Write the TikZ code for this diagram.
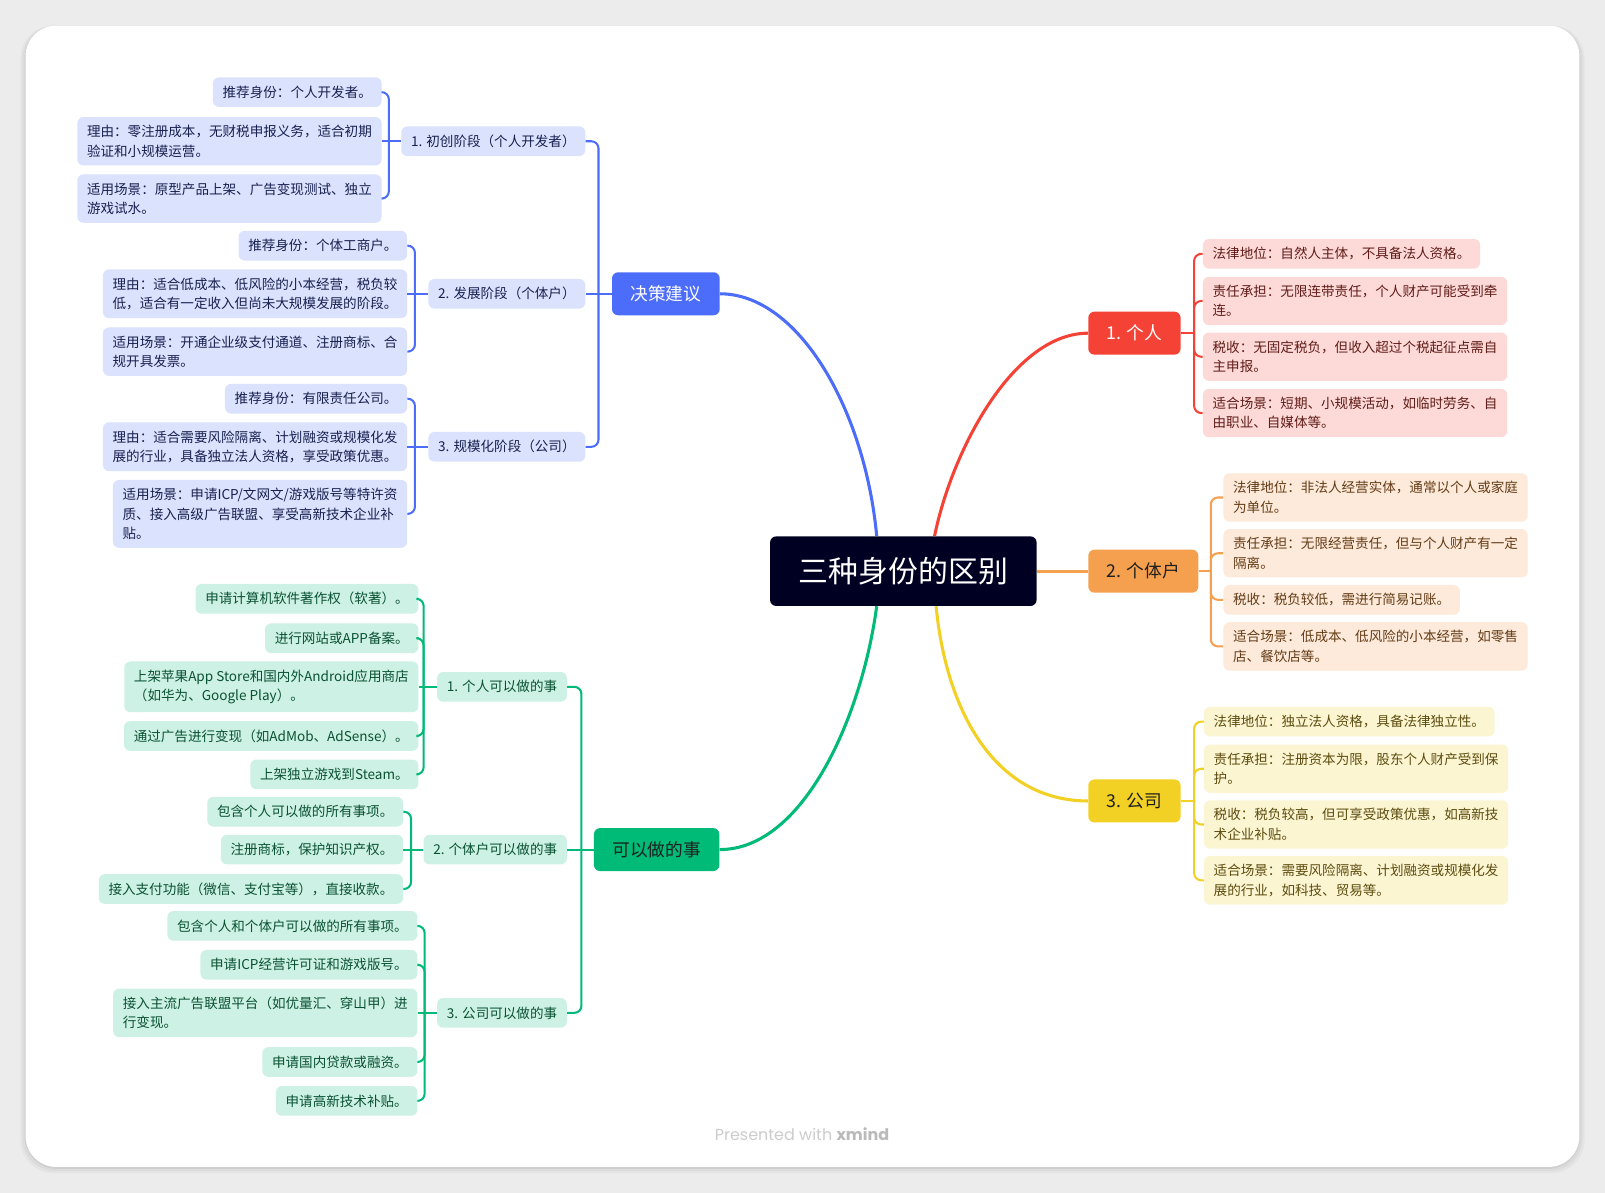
\documentclass[tikz,border=0pt]{standalone}
\usepackage{fontspec}
\setmainfont{Noto Sans CJK SC}
\newfontfamily\footfont{Poppins}
\usetikzlibrary{calc}

\definecolor{pagebg}{RGB}{236,236,236}
\definecolor{rootbg}{RGB}{0,0,34}
\definecolor{blueline}{RGB}{76,108,250}
\definecolor{bluelt}{RGB}{219,226,253}
\definecolor{bluetx}{RGB}{24,32,80}
\definecolor{redline}{RGB}{244,67,54}
\definecolor{redlt}{RGB}{253,218,216}
\definecolor{redtx}{RGB}{96,28,24}
\definecolor{orangeline}{RGB}{245,160,78}
\definecolor{orangelt}{RGB}{253,234,218}
\definecolor{orangetx}{RGB}{100,60,22}
\definecolor{yellowline}{RGB}{242,208,36}
\definecolor{yellowlt}{RGB}{252,245,210}
\definecolor{yellowtx}{RGB}{92,76,14}
\definecolor{greenline}{RGB}{0,186,120}
\definecolor{greenlt}{RGB}{205,241,228}
\definecolor{greentx}{RGB}{10,82,52}

\tikzset{
  rootbox/.style={fill=rootbg, text=white, rounded corners=6pt, inner xsep=28pt, minimum height=68pt, font=\fontsize{29.2}{34}\selectfont},
  topicbox/.style={fill=#1line, rounded corners=6pt, inner xsep=18pt, minimum height=42pt, font=\fontsize{17.3}{20}\selectfont},
  leafbox/.style={fill=#1lt, text=#1tx, rounded corners=6pt, inner xsep=9.5pt, inner ysep=8pt, minimum height=29pt, align=left, font=\fontsize{13.25}{19}\selectfont},
  twig/.style={draw=#1line, line width=2pt, rounded corners=7pt},
  bough/.style={draw=#1line, line width=3pt},
}

\begin{document}
\begin{tikzpicture}[x=1pt,y=-1pt]
\useasboundingbox (0,0) rectangle (1568,1165);
\fill[pagebg] (0,0) rectangle (1568,1165);
\foreach \d/\o in {5/0.03,3/0.04,1/0.05}
  \fill[black, opacity=\o, rounded corners=32pt] (25-\d,25) rectangle (1543+\d,1140+\d+1);
\fill[white, rounded corners=30pt] (25,25) rectangle (1543,1140);

% centre and main topics
\node[rootbox] (root) at (882.5,558) {三种身份的区别};
\node[topicbox=blue, text=white] (advice) at (650.5,287) {决策建议};
\node[topicbox=red, text=white, anchor=west] (person) at (1063,325.5) {1. 个人};
\node[topicbox=orange, text=black!88, anchor=west] (household) at (1063,558) {2. 个体户};
\node[topicbox=yellow, text=black!88, anchor=west] (company) at (1063,782.5) {3. 公司};
\node[topicbox=green, text=black!88] (cando) at (641.5,830) {可以做的事};

% decision stages
\node[leafbox=blue, anchor=east] (startup) at (572,138) {1. 初创阶段（个人开发者）};
\node[leafbox=blue, anchor=east] (growth) at (572,287) {2. 发展阶段（个体户）};
\node[leafbox=blue, anchor=east] (scale) at (572,436.5) {3. 规模化阶段（公司）};

\node[leafbox=blue, anchor=east] (startupa) at (373,90) {推荐身份：个人开发者。};
\node[leafbox=blue, anchor=east] (startupb) at (373,138) {理由：零注册成本，无财税申报义务，适合初期\\验证和小规模运营。};
\node[leafbox=blue, anchor=east] (startupc) at (373,194) {适用场景：原型产品上架、广告变现测试、独立\\游戏试水。};

\node[leafbox=blue, anchor=east] (growtha) at (398,240) {推荐身份：个体工商户。};
\node[leafbox=blue, anchor=east] (growthb) at (398,287) {理由：适合低成本、低风险的小本经营，税负较\\低，适合有一定收入但尚未大规模发展的阶段。};
\node[leafbox=blue, anchor=east] (growthc) at (398,343.5) {适用场景：开通企业级支付通道、注册商标、合\\规开具发票。};

\node[leafbox=blue, anchor=east] (scalea) at (398,389.5) {推荐身份：有限责任公司。};
\node[leafbox=blue, anchor=east] (scaleb) at (398,436.5) {理由：适合需要风险隔离、计划融资或规模化发\\展的行业，具备独立法人资格，享受政策优惠。};
\node[leafbox=blue, anchor=east] (scalec) at (398,502) {适用场景：申请ICP/文网文/游戏版号等特许资\\质、接入高级广告联盟、享受高新技术企业补\\贴。};

% individual
\node[leafbox=red, anchor=west] (persona) at (1175,248) {法律地位：自然人主体，不具备法人资格。};
\node[leafbox=red, anchor=west] (personb) at (1175,294) {责任承担：无限连带责任，个人财产可能受到牵\\连。};
\node[leafbox=red, anchor=west] (personc) at (1175,348.5) {税收：无固定税负，但收入超过个税起征点需自\\主申报。};
\node[leafbox=red, anchor=west] (persond) at (1175,403.5) {适合场景：短期、小规模活动，如临时劳务、自\\由职业、自媒体等。};

% household
\node[leafbox=orange, anchor=west] (householda) at (1195,486) {法律地位：非法人经营实体，通常以个人或家庭\\为单位。};
\node[leafbox=orange, anchor=west] (householdb) at (1195,540.5) {责任承担：无限经营责任，但与个人财产有一定\\隔离。};
\node[leafbox=orange, anchor=west] (householdc) at (1195,586) {税收：税负较低，需进行简易记账。};
\node[leafbox=orange, anchor=west] (householdd) at (1195,631.5) {适合场景：低成本、低风险的小本经营，如零售\\店、餐饮店等。};

% company
\node[leafbox=yellow, anchor=west] (companya) at (1176,705) {法律地位：独立法人资格，具备法律独立性。};
\node[leafbox=yellow, anchor=west] (companyb) at (1176,751) {责任承担：注册资本为限，股东个人财产受到保\\护。};
\node[leafbox=yellow, anchor=west] (companyc) at (1176,805.5) {税收：税负较高，但可享受政策优惠，如高新技\\术企业补贴。};
\node[leafbox=yellow, anchor=west] (companyd) at (1176,860) {适合场景：需要风险隔离、计划融资或规模化发\\展的行业，如科技、贸易等。};

% what each can do
\node[leafbox=green, anchor=east] (solo) at (554,671) {1. 个人可以做的事};
\node[leafbox=green, anchor=east] (shop) at (554,830) {2. 个体户可以做的事};
\node[leafbox=green, anchor=east] (firm) at (554,989.5) {3. 公司可以做的事};

\node[leafbox=green, anchor=east] (soloa) at (409,585) {申请计算机软件著作权（软著）。};
\node[leafbox=green, anchor=east] (solob) at (409,623.5) {进行网站或APP备案。};
\node[leafbox=green, anchor=east] (soloc) at (409,671) {上架苹果App Store和国内外Android应用商店\\（如华为、Google Play）。};
\node[leafbox=green, anchor=east] (solod) at (409,719) {通过广告进行变现（如AdMob、AdSense）。};
\node[leafbox=green, anchor=east] (soloe) at (409,756.5) {上架独立游戏到Steam。};

\node[leafbox=green, anchor=east] (shopa) at (394,793) {包含个人可以做的所有事项。};
\node[leafbox=green, anchor=east] (shopb) at (394,830) {注册商标，保护知识产权。};
\node[leafbox=green, anchor=east] (shopc) at (394,868.5) {接入支付功能（微信、支付宝等），直接收款。};

\node[leafbox=green, anchor=east] (firma) at (408,904.5) {包含个人和个体户可以做的所有事项。};
\node[leafbox=green, anchor=east] (firmb) at (408,942.5) {申请ICP经营许可证和游戏版号。};
\node[leafbox=green, anchor=east] (firmc) at (408,989.5) {接入主流广告联盟平台（如优量汇、穿山甲）进\\行变现。};
\node[leafbox=green, anchor=east] (firmd) at (408,1037.5) {申请国内贷款或融资。};
\node[leafbox=green, anchor=east] (firme) at (408,1075.5) {申请高新技术补贴。};

% main branches
\draw[bough=blue] (advice.east) .. controls (780,287) and (845,400) .. ([xshift=-26pt]root.north);
\draw[bough=red] (person.west) .. controls (990,325.5) and (930,440) .. ([xshift=30.5pt]root.north);
\draw[bough=orange] (root.east) -- (household.west);
\draw[bough=yellow] ([xshift=32pt]root.south) .. controls (925,700) and (975,782.5) .. (company.west);
\draw[bough=green] ([xshift=-26pt]root.south) .. controls (842,700) and (785,830) .. (cando.east);

% left side twigs
\coordinate (advicet) at ([xshift=-13pt]advice.west);
\foreach \s in {startup,scale} \draw[twig=blue] (\s.east) -| (advicet);
\draw[twig=blue] (growth.east) -- (advice.west);
\coordinate (startupt) at ([xshift=-12pt]startup.west);
\foreach \l in {startupa,startupc} \draw[twig=blue] (\l.east) -| (startupt);
\draw[twig=blue] (startupb.east) -- (startup.west);
\coordinate (growtht) at ([xshift=-13pt]growth.west);
\foreach \l in {growtha,growthc} \draw[twig=blue] (\l.east) -| (growtht);
\draw[twig=blue] (growthb.east) -- (growth.west);
\coordinate (scalet) at ([xshift=-13pt]scale.west);
\foreach \l in {scalea,scalec} \draw[twig=blue] (\l.east) -| (scalet);
\draw[twig=blue] (scaleb.east) -- (scale.west);

\coordinate (candot) at ([xshift=-12pt]cando.west);
\foreach \s in {solo,firm} \draw[twig=green] (\s.east) -| (candot);
\draw[twig=green] (shop.east) -- (cando.west);
\coordinate (solot) at ([xshift=-13pt]solo.west);
\foreach \l in {soloa,solob,solod,soloe} \draw[twig=green] (\l.east) -| (solot);
\draw[twig=green] (soloc.east) -- (solo.west);
\coordinate (shopt) at ([xshift=-12pt]shop.west);
\foreach \l in {shopa,shopc} \draw[twig=green] (\l.east) -| (shopt);
\draw[twig=green] (shopb.east) -- (shop.west);
\coordinate (firmt) at ([xshift=-12pt]firm.west);
\foreach \l in {firma,firmb,firmd,firme} \draw[twig=green] (\l.east) -| (firmt);
\draw[twig=green] (firmc.east) -- (firm.west);

% right side twigs
\coordinate (persont) at ([xshift=13pt]person.east);
\draw[twig=red] (person.east) -- (persont);
\foreach \l in {persona,personb,personc,persond} \draw[twig=red] (\l.west) -| (persont);
\coordinate (householdt) at ([xshift=12pt]household.east);
\draw[twig=orange] (household.east) -- (householdt);
\foreach \l in {householda,householdb,householdc,householdd} \draw[twig=orange] (\l.west) -| (householdt);
\coordinate (companyt) at ([xshift=13pt]company.east);
\draw[twig=yellow] (company.east) -- (companyt);
\foreach \l in {companya,companyb,companyc,companyd} \draw[twig=yellow] (\l.west) -| (companyt);

\node[text=black!20, font=\footfont\fontsize{15.6}{18}\selectfont] (credit) at (783.5,1108) {Presented with {\bfseries\color{black!27}xmind}};
\end{tikzpicture}
\end{document}
